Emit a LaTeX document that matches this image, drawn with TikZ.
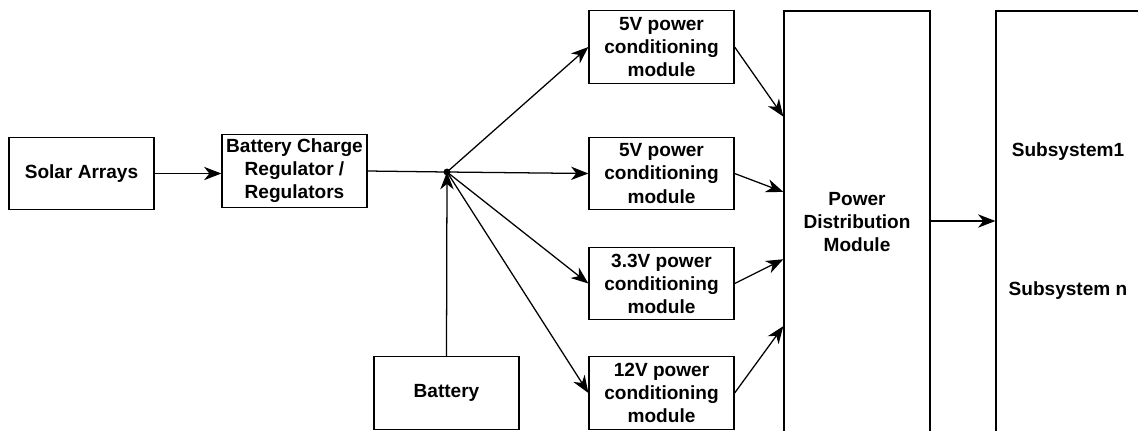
\documentclass[tikz,border=0pt]{standalone}
\usepackage{fontspec}
\setmainfont{Liberation Sans}
\usetikzlibrary{arrows.meta,calc}
\begin{document}
\begin{tikzpicture}[x=0.75pt,y=-0.75pt,
  box/.style={draw, line width=0.95pt, inner sep=0pt, align=center,
    font=\bfseries\fontsize{14.3}{17.3}\selectfont},
  lbl/.style={inner sep=0pt, font=\bfseries\fontsize{14.3}{17.3}\selectfont},
  smallbox/.style={box, minimum width=108.75pt, minimum height=54.5pt},
  arr/.style={-{Stealth[length=13pt,width=10pt,inset=4pt]}, line width=0.95pt},
  plain/.style={line width=0.95pt}]
\useasboundingbox (0,0) rectangle (1138,430);
\clip (0,0) rectangle (1138,430);
\fill[white] (0,0) rectangle (1138,430);
\node[smallbox] (solar) at (81.5,173.5) {Solar Arrays};
\node[smallbox] (bcr) at (294.5,171) {Battery Charge\\Regulator /\\Regulators};
\node[smallbox] (bat) at (446.5,393) {Battery};
\node[smallbox] (m1) at (661.5,47) {5V power\\conditioning\\module};
\node[smallbox] (m2) at (661.5,173.5) {5V power\\conditioning\\module};
\node[smallbox] (m3) at (661.5,283.5) {3.3V power\\conditioning\\module};
\node[smallbox] (m4) at (661.5,393) {12V power\\conditioning\\module};
\node[box, minimum width=109.5pt, minimum height=316.5pt] (pdm) at (857,222) {Power\\Distribution\\Module};
\node[box, minimum width=109.5pt, minimum height=316.5pt] (sub) at (1069,222) {};
\node[lbl] (s1) at (1068,152) {Subsystem1};
\node[lbl] (sn) at (1068,291) {Subsystem n};
\coordinate (j) at (447,172);
\draw[arr] (solar.east) -- (bcr.west |- solar.east);
\draw[plain] (bcr.east) -- (j);
\draw[arr] (bat.north) -- (j);
\fill (j) circle (2.6pt);
\draw[arr] (j) -- (m1.west);
\draw[arr] (j) -- (m2.west);
\draw[arr] (j) -- (m3.west);
\draw[arr] (j) -- (m4.west);
\draw[arr] (m1.east) -- ($(pdm.north west)!0.251!(pdm.south west)$);
\draw[arr] (m2.east) -- ($(pdm.north west)!0.429!(pdm.south west)$);
\draw[arr] (m3.east) -- ($(pdm.north west)!0.588!(pdm.south west)$);
\draw[arr] (m4.east) -- ($(pdm.north west)!0.746!(pdm.south west)$);
\draw[arr] (pdm.east |- 0,221) -- (sub.west |- 0,221);
\end{tikzpicture}
\end{document}
